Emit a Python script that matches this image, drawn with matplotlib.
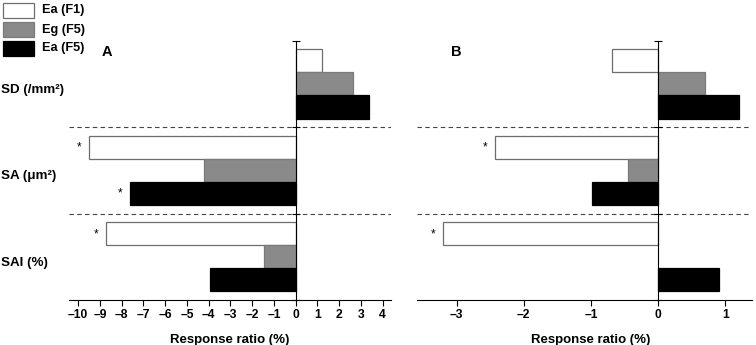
import matplotlib
matplotlib.use("Agg")
import matplotlib.pyplot as plt
from matplotlib.patches import Rectangle
from matplotlib.ticker import FuncFormatter
import matplotlib.transforms as mtransforms

plt.rcParams["font.family"] = ["Liberation Sans", "DejaVu Sans"]
plt.rcParams["font.weight"] = "bold"

# ---------------------------------------------------------------- data
CATEGORIES = ["SD (/mm²)", "SA (μm²)", "SAI (%)"]
SERIES = ["Ea (F1)", "Eg (F5)", "Ea (F5)"]
FILLS = ["white", "#8a8a8a", "black"]
EDGES = ["#6e6e6e", "#7a7a7a", "black"]

# panel A : response ratio (%) per category, one list per series
A_EA_F1 = [1.22, -9.49, -8.71]
A_EG_F5 = [2.65, -4.22, -1.46]
A_EA_F5 = [3.39, -7.61, -3.93]
A_SIG_F1 = [False, True, True]
A_SIG_EG = [False, False, False]
A_SIG_F5 = [False, True, False]
A_TICKS = list(range(-10, 5))

# panel B
B_EA_F1 = [-0.685, -2.435, -3.21]
B_EG_F5 = [0.70, -0.446, 0.0]
B_EA_F5 = [1.205, -0.98, 0.91]
B_SIG_F1 = [False, True, True]
B_SIG_EG = [False, False, False]
B_SIG_F5 = [False, False, False]
B_TICKS = [-3, -2, -1, 0, 1]

W, H = 756, 345
BAR_H = 0.267


def panneau(ax, series, sigs, ticks, xlim):
    offs = [-BAR_H, 0.0, BAR_H]
    for vals, sig, off, fc, ec in zip(series, sigs, offs, FILLS, EDGES):
        for i, v in enumerate(vals):
            if v == 0:
                continue
            ax.barh(i + off, v, height=BAR_H, color=fc, edgecolor=ec, lw=0.9, zorder=2)
            if sig[i]:
                ax.annotate("*", (v, i + off), xytext=(-7.2, -0.3), textcoords="offset points",
                            ha="center", va="center", fontsize=8.5, fontweight="normal")
    for yb in [0.5, 1.5]:
        ax.axhline(yb, color="#444", lw=0.8, ls=(0, (4, 3)), zorder=1)
    ax.set_xlim(*xlim)
    ax.set_ylim(2.5, -0.5)
    for s in ["top", "right"]:
        ax.spines[s].set_visible(False)
    ax.spines["left"].set_position(("data", 0))
    ax.spines["left"].set_linewidth(0.8)
    ax.spines["left"].set_zorder(3)
    ax.spines["bottom"].set_linewidth(0.8)
    ax.set_yticks([-0.5, 0.5, 1.5, 2.5])
    ax.set_yticklabels([])
    ax.tick_params(axis="y", direction="inout", length=6, width=0.8)
    ax.set_xticks(ticks)
    ax.xaxis.set_major_formatter(FuncFormatter(lambda v, p: f"{v:.0f}".replace("-", "–")))
    ax.tick_params(axis="x", direction="out", length=4, width=0.8, pad=2.5, labelsize=8.7)
    for t in ax.get_xticklabels():
        t.set_fontweight("bold")
    ax.set_xlabel("Response ratio (%)", fontsize=9.5, fontweight="bold")
    ax.patch.set_visible(False)


fig = plt.figure(figsize=(W / 100, H / 100), dpi=100)
axA = fig.add_axes([69.3 / W, 1 - 300 / H, 321.4 / W, 259.3 / H])
axB = fig.add_axes([416.7 / W, 1 - 300 / H, 335.6 / W, 259.3 / H])

panneau(axA, [A_EA_F1, A_EG_F5, A_EA_F5], [A_SIG_F1, A_SIG_EG, A_SIG_F5],
        A_TICKS, (-10.41, 4.37))
panneau(axB, [B_EA_F1, B_EG_F5, B_EA_F5], [B_SIG_F1, B_SIG_EG, B_SIG_F5],
        B_TICKS, (-3.595, 1.40))
axA.xaxis.set_label_coords(0.5, -0.13)
axB.xaxis.set_label_coords(0.519, -0.13)

fig.text(102 / W, 1 - 52 / H, "A", fontsize=10.5, fontweight="bold", va="center")
fig.text(451 / W, 1 - 52 / H, "B", fontsize=10.5, fontweight="bold", va="center")

# category labels on the left
tr = mtransforms.blended_transform_factory(fig.transFigure, axA.transData)
for i, lab in enumerate(CATEGORIES):
    axA.text(1 / W, i + 0.07, lab, transform=tr, ha="left", va="center",
             fontsize=9.6, fontweight="bold", clip_on=False)

# legend
for i, (lab, fc, ec) in enumerate(zip(SERIES, FILLS, EDGES)):
    top = 2.7 + i * 19.0
    fig.patches.append(Rectangle((3.3 / W, 1 - (top + 15.6) / H), 31 / W, 15.6 / H,
                                 transform=fig.transFigure, facecolor=fc, edgecolor=ec, lw=0.9))
    fig.text(41.7 / W, 1 - (top + 7.8) / H, lab, fontsize=9.2, fontweight="bold", va="center")

fig.savefig("out.png", dpi=100)
